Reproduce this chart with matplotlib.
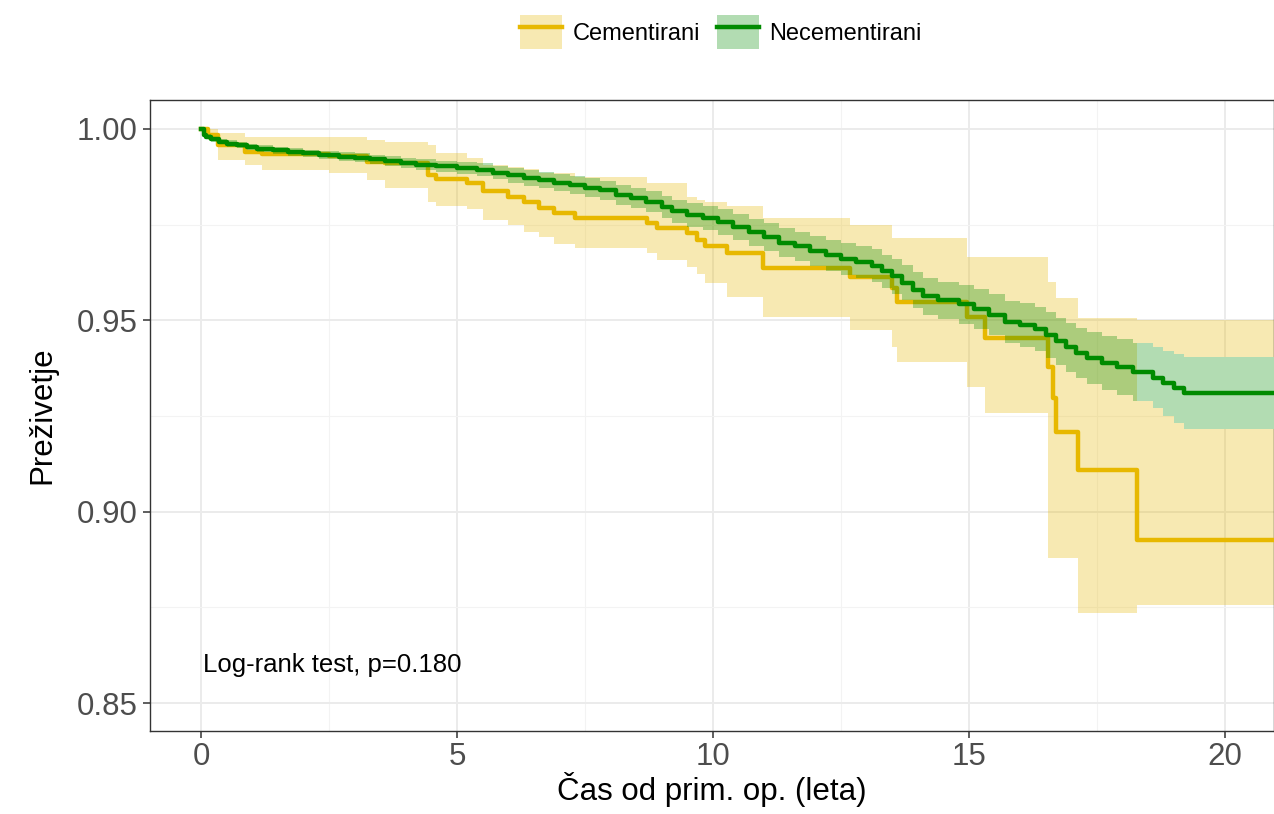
import numpy as np
import matplotlib
matplotlib.use("Agg")
import matplotlib.pyplot as plt
from matplotlib.patches import Patch
from matplotlib.lines import Line2D
from matplotlib.legend_handler import HandlerTuple

plt.rcParams['font.family'] = ['Liberation Sans', 'DejaVu Sans']

# ---------------- data ----------------
T_END = 20.96

cem_time = [0, 0.14, 0.33, 0.86, 1.2, 2.5, 3.24, 3.6, 4.43, 4.6, 5.2, 5.5, 6.0, 6.3, 6.6, 6.9, 7.3,
            8.71, 8.9, 9.49, 9.69, 9.84, 10.27, 10.98, 12.68, 13.5, 13.6, 14.96, 15.31, 16.55,
            16.65, 16.7, 17.13, 18.28]
cem_surv = [1.0, 0.9984, 0.9958, 0.994, 0.9935, 0.993, 0.9914, 0.9912, 0.988, 0.987, 0.9858, 0.9837,
            0.9822, 0.981, 0.9794, 0.978, 0.9768, 0.9755, 0.9742, 0.9729, 0.971, 0.9695, 0.9677,
            0.9637, 0.9613, 0.9585, 0.9549, 0.951, 0.9455, 0.9377, 0.9297, 0.9209, 0.911, 0.8925]
cem_lower = [1.0, 0.9971, 0.992, 0.9906, 0.9893, 0.9885, 0.9867, 0.9846, 0.981, 0.980, 0.979, 0.9762,
             0.975, 0.973, 0.9718, 0.970, 0.969, 0.9676, 0.9658, 0.964, 0.962, 0.9598, 0.956,
             0.951, 0.9475, 0.943, 0.939, 0.9326, 0.9258, 0.888, 0.888, 0.888, 0.8736, 0.8757]
cem_upper = [1.0, 1.0, 0.999, 0.998, 0.998, 0.9978, 0.997, 0.9965, 0.9958, 0.9937, 0.9925, 0.9906,
             0.990, 0.9895, 0.9885, 0.9885, 0.9875, 0.986, 0.986, 0.9823, 0.9815, 0.981, 0.980,
             0.9767, 0.975, 0.9715, 0.9715, 0.9666, 0.9666, 0.960, 0.960, 0.9558, 0.9506, 0.950]

nec_time = [0, 0.05, 0.1, 0.2, 0.35, 0.5, 0.7, 0.9, 1.1, 1.4, 1.7, 2.0, 2.3, 2.7, 3.0, 3.3, 3.6, 3.9,
            4.2, 4.6, 5.0, 5.4, 5.7, 6.0, 6.3, 6.6, 6.9, 7.2, 7.5, 7.8, 8.1, 8.4, 8.7, 9.0, 9.2, 9.5,
            9.8, 10.1, 10.4, 10.7, 11.0, 11.3, 11.6, 11.9, 12.2, 12.5, 12.8, 13.1, 13.3, 13.5, 13.7,
            13.9, 14.1, 14.4, 14.8, 15.1, 15.4, 15.7, 16.0, 16.3, 16.5, 16.7, 16.9, 17.1, 17.3, 17.6,
            17.9, 18.2, 18.6, 18.8, 19.0, 19.2]
nec_surv = [1.0, 0.9985, 0.998, 0.9973, 0.9967, 0.9962, 0.9957, 0.9952, 0.9948, 0.9944, 0.9940, 0.9936,
            0.9932, 0.9928, 0.9925, 0.9921, 0.9917, 0.9912, 0.9907, 0.9902, 0.9898, 0.9893, 0.9886,
            0.9879, 0.9872, 0.9866, 0.9860, 0.9853, 0.9847, 0.9840, 0.9828, 0.9820, 0.9810, 0.9797,
            0.9785, 0.9776, 0.9767, 0.9757, 0.9743, 0.9730, 0.9718, 0.9703, 0.9693, 0.9682, 0.9670,
            0.9660, 0.9653, 0.9643, 0.9628, 0.9615, 0.9598, 0.9578, 0.9563, 0.9552, 0.9542, 0.9530,
            0.9515, 0.9496, 0.9487, 0.9477, 0.9462, 0.9445, 0.9430, 0.9415, 0.9402, 0.9388, 0.9378,
            0.9366, 0.9350, 0.9335, 0.9322, 0.9310]
nec_lower = [1.0, 0.998, 0.9974, 0.9966, 0.996, 0.9954, 0.9949, 0.9944, 0.9939, 0.9935, 0.9930, 0.9926,
             0.9921, 0.9917, 0.9913, 0.9909, 0.9904, 0.9899, 0.9893, 0.9887, 0.9882, 0.9876, 0.9868,
             0.9860, 0.9852, 0.9845, 0.9838, 0.9830, 0.9823, 0.9815, 0.9802, 0.9793, 0.9782, 0.9768,
             0.9755, 0.9745, 0.9735, 0.9724, 0.9709, 0.9695, 0.9682, 0.9666, 0.9655, 0.9643, 0.9630,
             0.9619, 0.9611, 0.9600, 0.9584, 0.9570, 0.9552, 0.9531, 0.9515, 0.9503, 0.9491, 0.9478,
             0.9461, 0.9441, 0.9430, 0.9419, 0.9402, 0.9383, 0.9366, 0.9349, 0.9334, 0.9318, 0.9305,
             0.9290, 0.9270, 0.9250, 0.9232, 0.9215]
nec_upper = [1.0, 0.999, 0.9986, 0.998, 0.9974, 0.997, 0.9965, 0.996, 0.9957, 0.9953, 0.9950, 0.9946,
             0.9943, 0.9939, 0.9937, 0.9933, 0.9930, 0.9925, 0.9921, 0.9917, 0.9914, 0.9910, 0.9904,
             0.9898, 0.9892, 0.9887, 0.9882, 0.9876, 0.9871, 0.9865, 0.9854, 0.9847, 0.9838, 0.9826,
             0.9815, 0.9807, 0.9799, 0.9790, 0.9777, 0.9765, 0.9754, 0.9740, 0.9731, 0.9721, 0.9710,
             0.9701, 0.9695, 0.9686, 0.9672, 0.9660, 0.9644, 0.9625, 0.9611, 0.9601, 0.9593, 0.9582,
             0.9569, 0.9551, 0.9544, 0.9535, 0.9522, 0.9507, 0.9494, 0.9481, 0.9470, 0.9458, 0.9451,
             0.9442, 0.9430, 0.9420, 0.9412, 0.9405]

series_names = ["Cementirani", "Necementirani"]
colors = ["#E7B800", "#008B00"]
x_ticks = [0, 5, 10, 15, 20]
y_ticks = [0.85, 0.90, 0.95, 1.00]
y_ticklabels = ["0.85", "0.90", "0.95", "1.00"]
x_minor = [2.5, 7.5, 12.5, 17.5]
y_minor = [0.875, 0.925, 0.975]
annotation = "Log-rank test, p=0.180"


def ext(t, *ys):
    t = np.append(np.asarray(t, float), T_END)
    out = [np.append(np.asarray(y, float), y[-1]) for y in ys]
    return (t, *out)


# ---------------- figure ----------------
W, H = 1274, 814
fig = plt.figure(figsize=(W / 100, H / 100), dpi=100)
ax = fig.add_axes([150 / W, (H - 731) / H, (W - 150) / W, (731 - 100) / H])

ax.set_xlim(-0.996, T_END)
ax.set_ylim(0.8427, 1.00757)

# grid
ax.set_xticks(x_ticks)
ax.set_yticks(y_ticks)
ax.set_yticklabels(y_ticklabels)
ax.set_xticks(x_minor, minor=True)
ax.set_yticks(y_minor, minor=True)
ax.grid(True, which="major", color="#EBEBEB", lw=1.4, zorder=0)
ax.grid(True, which="minor", color="#F3F3F3", lw=0.8, zorder=0)
ax.set_axisbelow(True)
ax.tick_params(which="minor", length=0)
ax.tick_params(which="major", length=5, width=1.1, color="#333333",
               labelsize=22.5, labelcolor="#4D4D4D", pad=4)
ax.tick_params(axis="x", which="major", pad=3)
for s in ax.spines.values():
    s.set_color("#333333")
    s.set_linewidth(1.0)

# Cementirani band and line
ct, cs, cl, cu = ext(cem_time, cem_surv, cem_lower, cem_upper)
ax.fill_between(ct, cl, cu, step="post", color=colors[0], alpha=0.3, lw=0, zorder=2)
ax.step(ct, cs, where="post", color=colors[0], lw=3.2, zorder=3)

# Necementirani band and line
nt, ns, nl, nu = ext(nec_time, nec_surv, nec_lower, nec_upper)
# beyond the last cementirani step the green band sits over white
t_cut = cem_time[-1]
k = np.searchsorted(nt, t_cut, side="right") - 1
wt = np.concatenate([[t_cut], nt[k + 1:]])
wl = np.concatenate([[nl[k]], nl[k + 1:]])
wu = np.concatenate([[nu[k]], nu[k + 1:]])
ax.fill_between(wt, wl, wu, step="post", color="white", lw=0, zorder=3.5)
ax.fill_between(nt, nl, nu, step="post", color=colors[1], alpha=0.3, lw=0, zorder=4)
ax.step(nt, ns, where="post", color=colors[1], lw=3.2, zorder=5)

ax.text(0.03, 0.860, annotation, fontsize=18.5, color="black", ha="left", va="center", zorder=6)

ax.set_xlabel("Čas od prim. op. (leta)", fontsize=22.5, color="black", labelpad=0)
ax.set_ylabel("Preživetje", fontsize=22.5, color="black", labelpad=14)

handles = [(Patch(facecolor=c, alpha=0.3, edgecolor="none"), Line2D([], [], color=c, lw=3.2))
           for c in colors]
fig.legend(handles, series_names, loc="center", bbox_to_anchor=(721 / W, 1 - 32 / H),
           ncol=2, frameon=False, fontsize=17, handlelength=1.78, handleheight=1.82,
           handletextpad=0.45, columnspacing=0.7, borderpad=0.2,
           handler_map={tuple: HandlerTuple(ndivide=1, pad=0)})

fig.savefig("out.png", dpi=100)
